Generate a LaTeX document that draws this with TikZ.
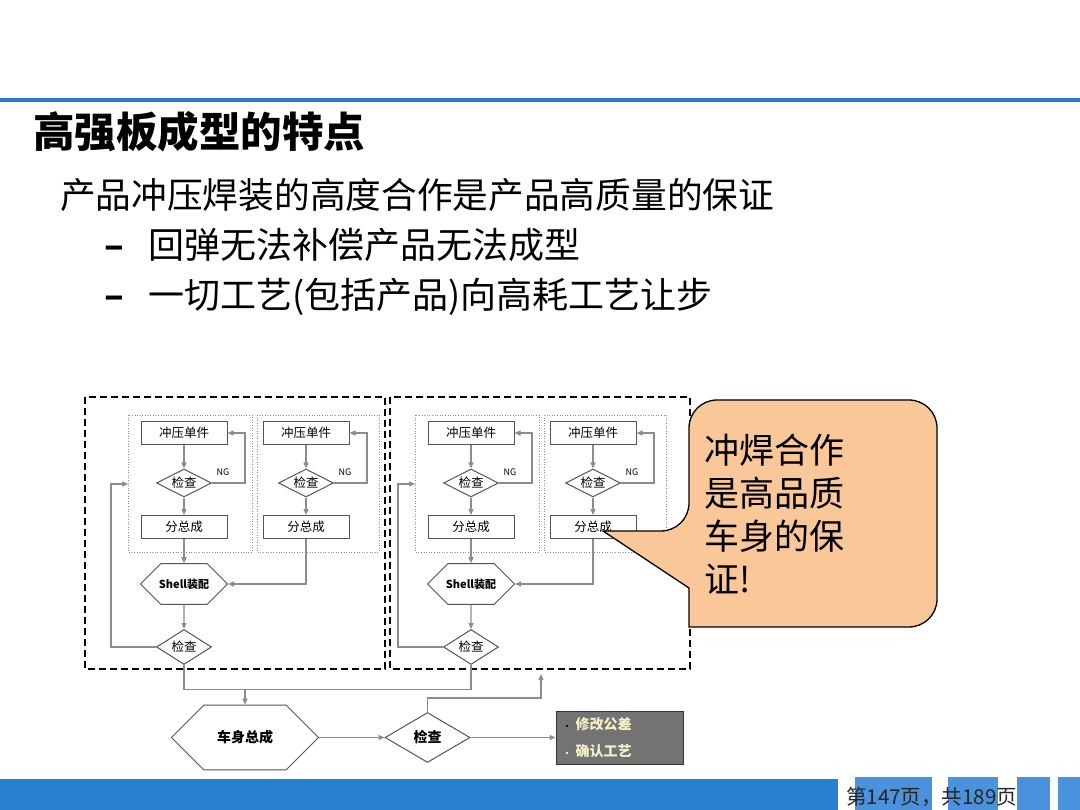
\documentclass[tikz,border=0pt]{standalone}
\usepackage{fontspec}
\setmainfont{Noto Sans CJK SC}
\usepackage{xcolor}
\usepackage{tikz}
\usetikzlibrary{arrows.meta,shapes.geometric,shapes.misc}

\definecolor{topblue}{RGB}{43,123,203}
\definecolor{barblue}{RGB}{42,127,208}
\definecolor{tileblue}{RGB}{74,146,220}
\definecolor{flowgray}{RGB}{140,140,140}
\definecolor{boxgray}{RGB}{85,85,85}
\definecolor{notefill}{RGB}{250,200,152}
\definecolor{todofill}{RGB}{115,115,115}
\definecolor{todotext}{RGB}{245,240,200}

\tikzset{
  txt/.style={anchor=west,inner sep=0pt},
  flow/.style={draw=flowgray,line width=1.2pt,-{Triangle[length=6pt,width=5pt]}},
  link/.style={draw=flowgray,line width=1.2pt},
  frame/.style={draw=black!45,line width=0.6pt,dotted},
  group/.style={draw=black,line width=2pt,dash pattern=on 7pt off 4pt},
  unit/.style={draw=boxgray,line width=1pt,fill=white,minimum width=86pt,minimum height=23pt,
    inner sep=0pt,font=\fontsize{12.5}{13}\selectfont},
  check/.style={diamond,draw=boxgray,line width=1pt,fill=white,aspect=2,inner sep=0pt,
    minimum width=55pt,minimum height=28pt,font=\fontsize{12.5}{13}\selectfont},
  hexa/.style={chamfered rectangle,chamfered rectangle xsep=11pt,chamfered rectangle ysep=15pt,
    draw=boxgray,line width=1pt,fill=white,minimum width=87pt,minimum height=30pt,inner sep=0pt,
    font=\bfseries\fontsize{11}{12}\selectfont},
  ng/.style={inner sep=0pt,font=\fontsize{9}{10}\selectfont}
}
\newcommand{\dashmark}{\makebox[44pt][l]{\bfseries –}}

\begin{document}
\begin{tikzpicture}[x=1pt,y=-1pt]
\useasboundingbox (0,0) rectangle (1080,810);
\fill[white] (0,0) rectangle (1080,810);
\fill[topblue] (0,98) rectangle (1080,102);

\node[txt,font=\bfseries\fontsize{41.5}{46}\selectfont] (title) at (33,132) {高强板成型的特点};
\node[txt,font=\fontsize{35.7}{40}\selectfont] (lead) at (60,195) {产品冲压焊装的高度合作是产品高质量的保证};
\node[txt,font=\fontsize{36}{40}\selectfont] (pointa) at (104,245) {\dashmark 回弹无法补偿产品无法成型};
\node[txt,font=\fontsize{36}{40}\selectfont] (pointb) at (104,297) {\dashmark 一切工艺(包括产品)向高耗工艺让步};

\foreach \g/\dx/\ox in {L/0/0,R/287/305} {
  \draw[group] (85+\ox,397) rectangle (385+\ox,669);
  \foreach \b/\bx/\fl/\fr in {1/0/128/252,2/122/257/379} {
    \draw[frame] (\fl+\dx,415) rectangle (\fr+\dx,552);
    \node[unit] (stamp\g\b) at (184+\bx+\dx,433) {冲压单件};
    \node[check] (chk\g\b) at (184+\bx+\dx,483) {检查};
    \node[unit] (sub\g\b) at (184+\bx+\dx,527) {分总成};
    \node[ng] (ng\g\b) at (223+\bx+\dx,472) {NG};
    \draw[flow] (stamp\g\b) -- (chk\g\b);
    \draw[flow] (chk\g\b) -- (sub\g\b);
    \draw[flow] (chk\g\b.east) -- ++(33,0) |- (stamp\g\b.east);
  }
  \node[hexa] (shell\g) at (184+\dx,584) {Shell装配};
  \node[check,minimum height=35pt] (qc\g) at (184+\dx,647) {检查};
  \coordinate (in\g) at (128+\dx,484);
  \draw[flow] (sub\g1) -- (shell\g);
  \draw[flow] (sub\g2.south) |- (shell\g.east);
  \draw[flow] (shell\g) -- (qc\g);
  \draw[flow] (qc\g.west) -- ++(-45,0) |- (in\g);
}

\node[hexa,minimum width=147pt,minimum height=51pt,chamfered rectangle xsep=29pt,
  chamfered rectangle ysep=25.5pt,font=\bfseries\fontsize{14}{15}\selectfont] (body) at (245,737.5) {车身总成};
\node[check,minimum width=85pt,minimum height=50pt,font=\bfseries\fontsize{14}{15}\selectfont] (fin) at (427.5,737.5) {检查};
\node[fill=todofill,draw=black!80,line width=1pt,minimum width=127pt,minimum height=53pt,
  text width=113pt,inner sep=6pt,align=left,text=todotext,
  font=\bfseries\fontsize{14}{27}\selectfont] (todo) at (619.5,737.5)
  {{\color{black}\fontsize{8}{8}\selectfont•}\ 修改公差\\{\color{white}\fontsize{8}{8}\selectfont•}\ 确认工艺};
\coordinate (back) at (541,674);

\draw[link] (qcL.south) -- ++(0,24.5) coordinate (join) -| (qcR.south);
\draw[flow] (body.north |- join) -- (body.north);
\draw[flow] (body.east) -- (fin.west);
\draw[flow] (fin.north) -- ++(0,-14) -| (back);
\draw[flow] (fin.east) -- (todo.west);

\draw[fill=notefill,draw=black,line width=1.3pt] (603,531) -- (689,588) -- (689,627)
  [rounded corners=28pt] -- (937,627) -- (937,400) -- (689,400) -- (689,531)
  [sharp corners] -- cycle;
\node[anchor=north west,inner sep=0pt,align=left,font=\fontsize{35}{43}\selectfont] (note)
  at (704,434) {冲焊合作\\是高品质\\车身的保\\证!};

\fill[barblue] (0,779) rectangle (838,810);
\foreach \a/\b in {855/932,948/998,1017/1050,1058/1080}
  \fill[tileblue] (\a,777) rectangle (\b,810);
\node[txt,font=\fontsize{20.5}{22}\selectfont,text=black!85] (page) at (846,797) {第147页，共189页};
\end{tikzpicture}
\end{document}
